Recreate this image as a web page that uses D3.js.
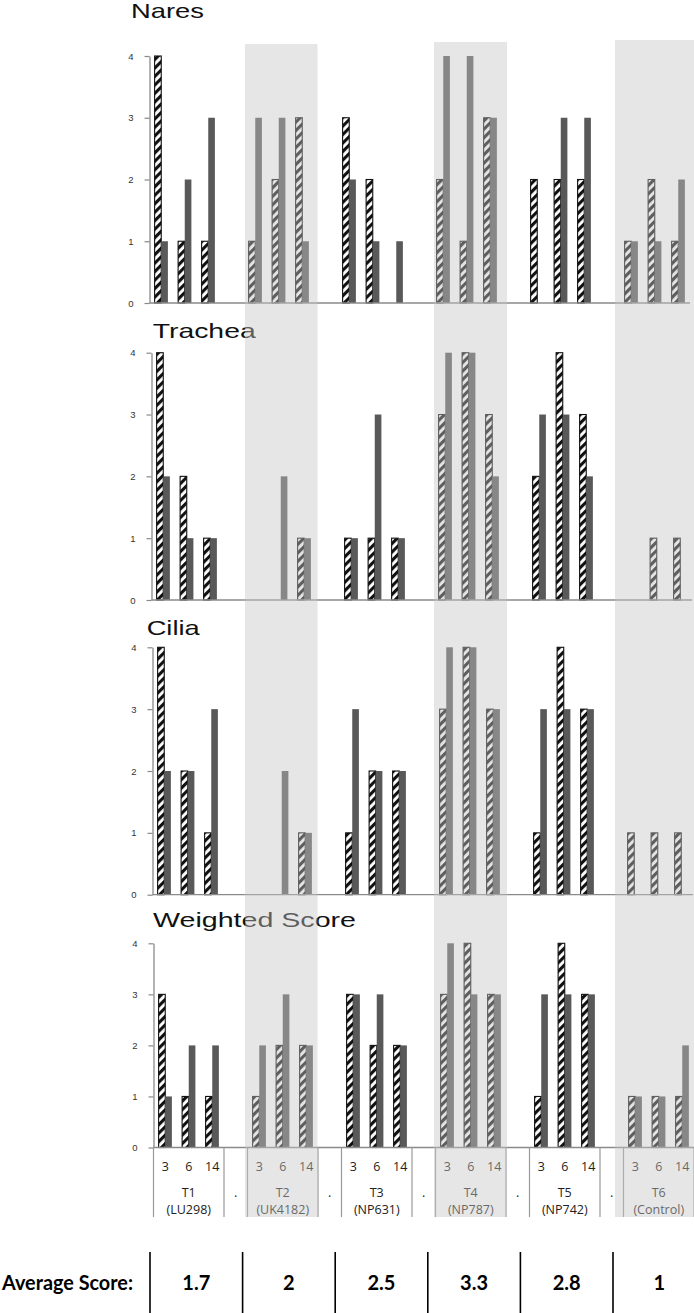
<!DOCTYPE html>
<html>
<head>
<meta charset="utf-8">
<script src="https://cdn.jsdelivr.net/npm/d3@7/dist/d3.min.js"></script>
<style>
  html, body { margin: 0; padding: 0; background: #fff; }
  svg { display: block; }
</style>
</head>
<body>
<svg id="chart" width="694" height="1313"></svg>
<script>
// ---------------- DATA ----------------
const days = ['3', '6', '14'];
const treatments = ['T1', 'T2', 'T3', 'T4', 'T5', 'T6'];
const strains = ['(LU298)', '(UK4182)', '(NP631)', '(NP787)', '(NP742)', '(Control)'];
const separatorLabel = '.';
const yTicks = [0, 1, 2, 3, 4];
const averageLabel = 'Average Score:';
const averageScores = ['1.7', '2', '2.5', '3.3', '2.8', '1'];
const panelTitles = ['Nares', 'Trachea', 'Cilia', 'Weighted Score'];

// values per treatment x day (T1:3,6,14, T2:3,6,14, ...)
const naresHatched    = [4,1,1, 1,2,3, 3,2,0, 2,1,3, 2,2,2, 1,2,1];
const naresSolid      = [1,2,3, 3,3,1, 2,1,1, 4,4,3, 0,3,3, 1,1,2];
const tracheaHatched  = [4,2,1, 0,0,1, 1,1,1, 3,4,3, 2,4,3, 0,1,1];
const tracheaSolid    = [2,1,1, 0,2,1, 1,3,1, 4,4,2, 3,3,2, 0,0,0];
const ciliaHatched    = [4,2,1, 0,0,1, 1,2,2, 3,4,3, 1,4,3, 1,1,1];
const ciliaSolid      = [2,2,3, 0,2,1, 3,2,2, 4,4,3, 3,3,3, 0,0,0];
const weightedHatched = [3,1,1, 1,2,2, 3,2,2, 3,4,3, 1,4,3, 1,1,1];
const weightedSolid   = [1,2,2, 2,3,2, 3,3,2, 4,3,3, 3,3,3, 1,1,2];

const panelHatched = [naresHatched, tracheaHatched, ciliaHatched, weightedHatched];
const panelSolid   = [naresSolid, tracheaSolid, ciliaSolid, weightedSolid];

// ---------------- LAYOUT ----------------
const W = 694, H = 1313;
const catStep = 23.5;
const panelLayout = [
  { x0: 149.5, top: 56.0,  base: 303.0,  tx: 131.0, ty: 17.5,  tw: 73  },
  { x0: 151.5, top: 352.7, base: 600.0,  tx: 152.7, ty: 338.3, tw: 103 },
  { x0: 152.5, top: 647.3, base: 894.7,  tx: 146.7, ty: 635.0, tw: 53  },
  { x0: 153.5, top: 943.3, base: 1147.5, tx: 153.0, ty: 926.7, tw: 203 }
];
const shadeRef = 150.5;
const shadeTrim = { T2: [0.5, 2.5], T4: [1.5, 4], T6: [-5.5, 3] };
const shadeTop = { T2: 44, T4: 42, T6: 40 };
const shadeBottom = 1217;
const labelBottom = 1217;

// category keys (3 days per treatment, separators between)
const cats = [];
treatments.forEach((t, i) => {
  days.forEach(d => cats.push({ key: t + '-' + d, t: i, day: d, sep: false }));
  if (i < treatments.length - 1) cats.push({ key: 'sep' + i, t: i, day: '', sep: true });
});
const nCats = cats.length;

const svg = d3.select('#chart');
svg.append('rect').attr('width', W).attr('height', H).attr('fill', '#fff');

const defs = svg.append('defs');
const pat = defs.append('pattern')
  .attr('id', 'hatch')
  .attr('patternUnits', 'userSpaceOnUse')
  .attr('width', 6).attr('height', 6)
  .attr('patternTransform', 'rotate(45)');
pat.append('rect').attr('width', 6).attr('height', 6).attr('fill', '#fff');
pat.append('rect').attr('width', 3.1).attr('height', 6).attr('fill', '#111');

const axisColor = '#8a8a8a';
const sans = '"Liberation Sans", Arial, sans-serif';

panelLayout.forEach((L, p) => {
  const g = svg.append('g');
  const x = d3.scaleBand().domain(cats.map(c => c.key))
    .range([L.x0, L.x0 + catStep * nCats]).padding(0);
  const bw = x.bandwidth();
  const xs = d3.scaleBand().domain(['hatched', 'solid']).range([0, bw])
    .paddingInner(0).paddingOuter(0.77);
  const y = d3.scaleLinear().domain([0, 4]).range([L.base, L.top]);

  // title
  g.append('text')
    .attr('x', L.tx).attr('y', L.ty)
    .attr('font-family', sans).attr('font-size', 21)
    .attr('fill', '#111')
    .attr('textLength', L.tw).attr('lengthAdjust', 'spacingAndGlyphs')
    .text(panelTitles[p]);

  // bar data
  const rows = [];
  let vi = 0;
  cats.forEach(c => {
    if (c.sep) return;
    rows.push({ key: c.key, s: 'hatched', v: panelHatched[p][vi] });
    rows.push({ key: c.key, s: 'solid', v: panelSolid[p][vi] });
    vi++;
  });

  g.selectAll('rect.bar').data(rows.filter(r => r.v > 0)).join('rect')
    .attr('class', 'bar')
    .attr('x', r => x(r.key) + xs(r.s))
    .attr('width', xs.bandwidth())
    .attr('y', r => y(r.v))
    .attr('height', r => y(0) - y(r.v))
    .attr('fill', r => r.s === 'hatched' ? 'url(#hatch)' : '#595959')
    .attr('stroke', r => r.s === 'hatched' ? '#111' : 'none')
    .attr('stroke-width', 1.1);

  // y axis
  const ya = g.append('g').attr('transform', `translate(${L.x0},0)`)
    .call(d3.axisLeft(y).tickValues(yTicks).tickSize(5).tickSizeOuter(0).tickPadding(11).tickFormat(d3.format('d')));
  ya.select('.domain').attr('stroke', axisColor).attr('stroke-width', 1.3);
  ya.selectAll('.tick line').attr('stroke', axisColor).attr('stroke-width', 1.2);
  ya.selectAll('.tick text').attr('font-family', sans).attr('font-size', 9.5).attr('fill', '#333');

  // baseline
  g.append('line')
    .attr('x1', L.x0).attr('x2', L.x0 + catStep * nCats)
    .attr('y1', y(0)).attr('y2', y(0))
    .attr('stroke', axisColor).attr('stroke-width', 1.3);

  // multi-level category labels on the last panel
  if (p === panelLayout.length - 1) {
    const lab = g.append('g');
    const ff = '"Open Sans", "Liberation Sans", sans-serif';
    lab.selectAll('text.day').data(cats.filter(c => !c.sep)).join('text')
      .attr('class', 'day')
      .attr('x', c => x(c.key) + bw / 2).attr('y', 1171)
      .attr('text-anchor', 'middle').attr('font-family', ff).attr('font-size', 12.5)
      .attr('fill', '#222').text(c => c.day);
    // group boundaries
    const edges = [];
    treatments.forEach((t, i) => {
      const first = cats.findIndex(c => c.t === i && !c.sep);
      edges.push(first, first + 3);
    });
    lab.selectAll('line.edge').data(Array.from(new Set(edges))).join('line')
      .attr('class', 'edge')
      .attr('x1', i => L.x0 + i * bw).attr('x2', i => L.x0 + i * bw)
      .attr('y1', y(0)).attr('y2', labelBottom)
      .attr('stroke', '#9a9a9a').attr('stroke-width', 1.2);
    treatments.forEach((t, i) => {
      const first = cats.find(c => c.t === i && !c.sep);
      const cx = x(first.key) + bw * 1.5;
      lab.append('text').attr('x', cx).attr('y', 1197.3)
        .attr('text-anchor', 'middle').attr('font-family', ff).attr('font-size', 12.5)
        .attr('fill', '#222').text(t);
      lab.append('text').attr('x', cx).attr('y', 1213.5)
        .attr('text-anchor', 'middle').attr('font-family', ff).attr('font-size', 12.5)
        .attr('fill', '#222').text(strains[i]);
    });
    lab.selectAll('text.sep').data(cats.filter(c => c.sep)).join('text')
      .attr('class', 'sep')
      .attr('x', c => x(c.key) + bw / 2).attr('y', 1197)
      .attr('text-anchor', 'middle').attr('font-family', ff).attr('font-size', 12.5)
      .attr('fill', '#222').text(separatorLabel);
  }
});

// translucent shading over even treatments
const xRef = d3.scaleBand().domain(cats.map(c => c.key))
  .range([shadeRef, shadeRef + catStep * nCats]).padding(0);
treatments.forEach((t, i) => {
  if (i % 2 === 0) return;
  const grp = cats.filter(c => c.t === i && !c.sep);
  const left = xRef(grp[0].key) + shadeTrim[t][0];
  const right = xRef(grp[grp.length - 1].key) + xRef.bandwidth() + shadeTrim[t][1];
  svg.append('rect')
    .attr('x', left).attr('y', shadeTop[t])
    .attr('width', right - left).attr('height', shadeBottom - shadeTop[t])
    .attr('fill', 'rgb(196,196,196)').attr('fill-opacity', 0.43);
});

// average score row
const avg = svg.append('g');
const cell = d3.scaleBand().domain(treatments).range([150, 150 + 92.6 * treatments.length]);
const boldFont = 'Lato, "Open Sans", sans-serif';
avg.append('text')
  .attr('x', 133).attr('y', 1290).attr('text-anchor', 'end')
  .attr('font-family', boldFont).attr('font-weight', 'bold').attr('font-size', 20)
  .attr('textLength', 131).attr('lengthAdjust', 'spacingAndGlyphs')
  .attr('fill', '#000').text(averageLabel);
avg.selectAll('line.cell').data(treatments).join('line')
  .attr('class', 'cell')
  .attr('x1', t => cell(t)).attr('x2', t => cell(t))
  .attr('y1', 1252).attr('y2', H)
  .attr('stroke', '#000').attr('stroke-width', 1.6);
avg.selectAll('text.score').data(treatments).join('text')
  .attr('class', 'score')
  .attr('x', t => cell(t) + cell.bandwidth() / 2).attr('y', 1290)
  .attr('text-anchor', 'middle')
  .attr('font-family', boldFont).attr('font-weight', 'bold').attr('font-size', 20)
  .attr('fill', '#000').text((t, i) => averageScores[i]);
</script>
</body>
</html>
